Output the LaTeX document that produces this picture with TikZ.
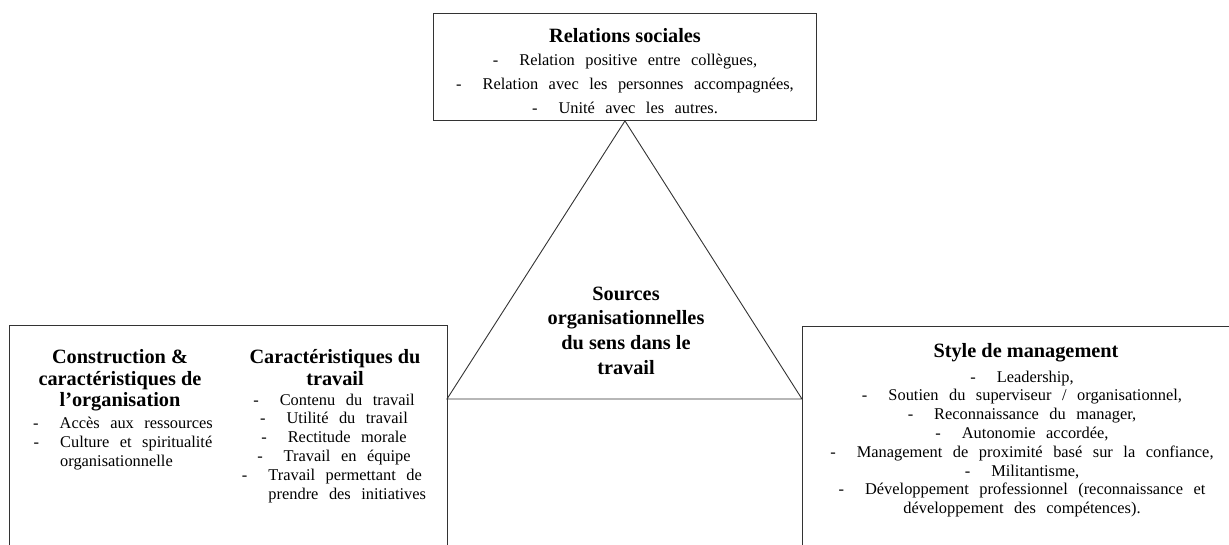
\documentclass[tikz,border=0pt]{standalone}
\usepackage{fontspec}
\setmainfont{Liberation Serif}
\newcommand\itemdash{-\hspace{21pt}}
\newcommand\itemfont[1]{\fontsize{16.4}{#1}\selectfont\spaceskip=10.5pt plus 1pt\relax}
\begin{document}
\begin{tikzpicture}[x=1pt,y=-1pt,
  boxline/.style={draw=black!80, line width=0.9pt},
  frame/.style={boxline, inner sep=0pt, anchor=north west},
  itemtxt/.style={font=\itemfont{18.8}, align=center, inner sep=0pt, anchor=north},
  titletxt/.style={font=\fontsize{20.3}{21.6}\selectfont\bfseries, align=center, inner sep=0pt, anchor=north},
]
\useasboundingbox (0,0) rectangle (1229,545);
\clip (0,0) rectangle (1229,545);

% frames
\node[frame, minimum width=383pt, minimum height=107pt] (relbox) at (433,13) {};
\node[frame, minimum width=438pt, minimum height=240pt] (orgbox) at (9,325) {};
\node[frame, minimum width=440pt, minimum height=240pt] (mgmtbox) at (802,326) {};

% triangle
\coordinate (apex) at (relbox.south);
\coordinate (baseL) at (447,399);
\coordinate (baseR) at (802,399);
\draw[boxline] (apex) -- (baseL) -- (baseR) -- cycle;

% centre label
\node[titletxt, font=\fontsize{20.3}{24.7}\selectfont\bfseries] (center) at (626,282.7)
  {\strut Sources\\organisationnelles\\du sens dans le\\travail};

% top box
\node[titletxt] (reltitle) at (625,26.9) {\strut Relations sociales};
\node[itemtxt, font=\itemfont{24}] (relitems) at (625,48.2)
  {\strut\itemdash Relation positive entre collègues,\\
   \itemdash Relation avec les personnes accompagnées,\\
   \itemdash Unité avec les autres.};

% left box, column 1
\node[titletxt] (orgtitle) at (120,348.2)
  {\strut Construction \&\\caractéristiques de\\l’organisation};
\node[itemtxt] (orgitems) at (123,415.1)
  {\strut\itemdash Accès aux ressources\\
   \itemdash\begin{tabular}[t]{@{}l@{}}Culture et spiritualité\\organisationnelle\end{tabular}};

% left box, column 2
\node[titletxt] (worktitle) at (335,348.2)
  {\strut Caractéristiques du\\travail};
\node[itemtxt] (workitems) at (334,391.8)
  {\strut\itemdash Contenu du travail\\
   \itemdash Utilité du travail\\
   \itemdash Rectitude morale\\
   \itemdash Travail en équipe\\
   \itemdash\begin{tabular}[t]{@{}l@{}}Travail permettant de\\prendre des initiatives\end{tabular}};

% right box
\node[titletxt] (mgmttitle) at (1026,342.2) {\strut Style de management};
\node[itemtxt] (mgmtitems) at (1022,368.8)
  {\strut\itemdash Leadership,\\
   \itemdash Soutien du superviseur / organisationnel,\\
   \itemdash Reconnaissance du manager,\\
   \itemdash Autonomie accordée,\\
   \itemdash Management de proximité basé sur la confiance,\\
   \itemdash Militantisme,\\
   \itemdash Développement professionnel (reconnaissance et\\
   développement des compétences).};
\end{tikzpicture}
\end{document}
